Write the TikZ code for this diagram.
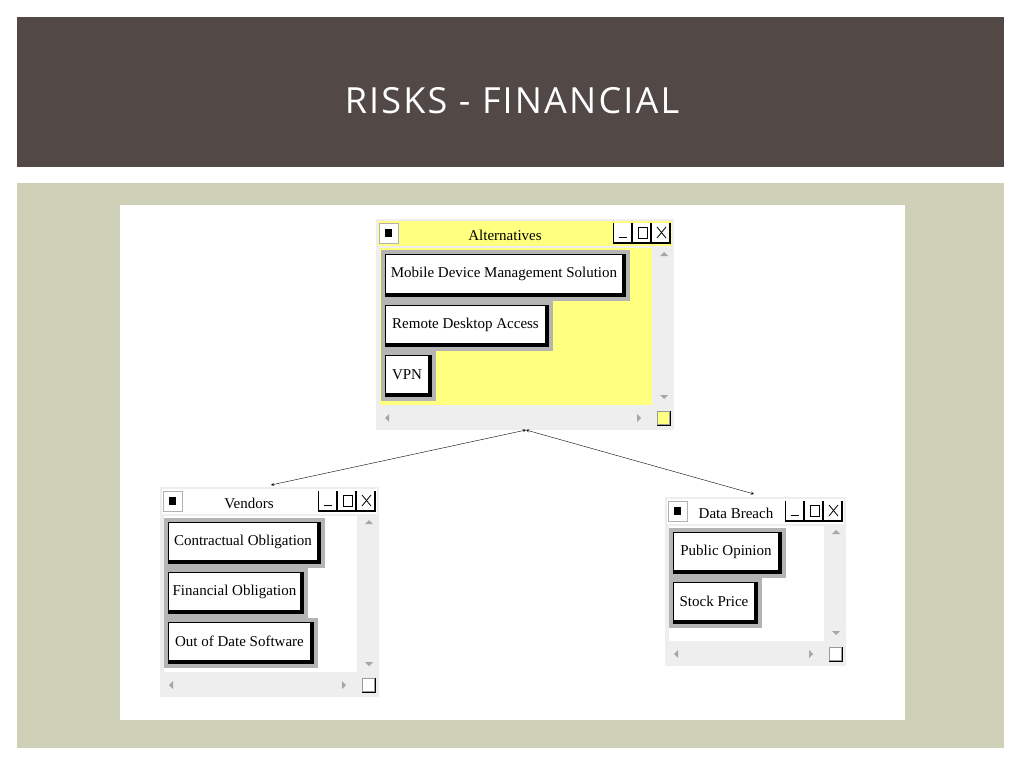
\documentclass[tikz,border=0pt]{standalone}
\usepackage{fontspec}
\setmainfont{Liberation Serif}
\newfontfamily\titlefont[LetterSpace=6]{Open Sans}
\definecolor{titlebrown}{HTML}{524846}
\definecolor{panelgreen}{HTML}{CED1B8}
\definecolor{winyellow}{HTML}{FFFF80}
\definecolor{wingray}{HTML}{EEEEEE}
\definecolor{btngray}{HTML}{B4B4B4}
\tikzset{
  btn/.style={inner sep=0pt, font=\fontsize{15}{15}\selectfont},
  wintitle/.style={inner sep=0pt, font=\fontsize{15}{15}\selectfont},
  link/.style={<->, >=stealth, thin}
}
% button: name, x1, y1, x2, y2, text
\newcommand{\btn}[6]{%
  \fill[btngray] (#2,#3) rectangle (#4,#5);
  \fill[black] (#2+4,#3+4) rectangle (#4-4,#5-4);
  \fill[white] (#2+5,#3+5) rectangle (#4-8,#5-8);
  \node[btn] (#1) at ({(#2+#4)/2-1.5},{(#3+#5)/2-1.5}) {#6};}
% window: x1, y1, x2, y2, fill, title, title x
\newcommand{\win}[7]{%
  \fill[wingray] (#1,#2) rectangle (#3,#4);
  \fill[#5] (#1+2,#2+2) rectangle (#3-2,#2+27);
  \fill[#5] (#1+4,#2+29) rectangle (#3-22,#4-25);
  \draw[gray!60, fill=white] (#1+3,#2+4) rectangle (#1+22,#2+24);
  \fill[black] (#1+9,#2+10) rectangle (#1+16,#2+18);
  \foreach \k in {60,41,22} {
    \fill[black] (#3-\k-1,#2+4) rectangle (#3-\k+19,#2+25);
    \fill[white] (#3-\k,#2+4) rectangle (#3-\k+17,#2+23);
  }
  \draw[thick] (#3-55,#2+18) -- (#3-47,#2+18);
  \draw (#3-36,#2+8) rectangle (#3-27,#2+19);
  \draw[thick] (#3-17,#2+8) -- (#3-8,#2+19) (#3-17,#2+19) -- (#3-8,#2+8);
  \fill[gray!70] (#3-14,#2+37) -- (#3-10,#2+33) -- (#3-6,#2+37) -- cycle;
  \fill[gray!70] (#3-14,#4-35) -- (#3-10,#4-31) -- (#3-6,#4-35) -- cycle;
  \fill[gray!70] (#1+9,#4-12) -- (#1+13,#4-16) -- (#1+13,#4-8) -- cycle;
  \fill[gray!70] (#3-33,#4-12) -- (#3-37,#4-16) -- (#3-37,#4-8) -- cycle;
  \draw[gray!80, fill=#5] (#3-17,#4-19) rectangle (#3-5,#4-6);
  \draw[thick] (#3-17,#4-5) -- (#3-4,#4-5) -- (#3-4,#4-19);
  \node[wintitle] at (#7,#2+16) {#6};}
\begin{document}
\begin{tikzpicture}[x=1pt, y=-1pt]
  \fill[white] (0,0) rectangle (1024,768);
  \fill[titlebrown] (17,17) rectangle (1004,167);
  \node[text=white, font=\titlefont\fontsize{36}{36}\selectfont] (title) at (512,101) {RISKS - FINANCIAL};
  \fill[panelgreen] (17,183) rectangle (1004,748);
  \fill[white] (120,205) rectangle (905,720);

  % Alternatives
  \win{376}{219}{674}{430}{winyellow}{Alternatives}{505}
  \btn{mdm}{381}{250}{630}{301}{Mobile Device Management Solution}
  \btn{rda}{381}{301}{553}{351}{Remote Desktop Access}
  \btn{vpn}{381}{351}{436}{401}{VPN}

  % Vendors
  \win{160}{487}{379}{697}{white}{Vendors}{249}
  \btn{contract}{164}{518}{325}{568}{Contractual Obligation}
  \btn{finance}{164}{568}{308}{618}{Financial Obligation}
  \btn{software}{164}{618}{318}{668}{Out of Date Software}

  % Data Breach
  \win{665}{497}{846}{666}{white}{Data Breach}{736}
  \btn{opinion}{669}{528}{786}{578}{Public Opinion}
  \btn{stock}{669}{578}{762}{628}{Stock Price}

  \coordinate (alt) at (526,430);
  \coordinate (ven) at (271,485);
  \coordinate (dat) at (754,494);
  \draw[link] (ven) -- (alt);
  \draw[link] (alt) -- (dat);
\end{tikzpicture}
\end{document}
